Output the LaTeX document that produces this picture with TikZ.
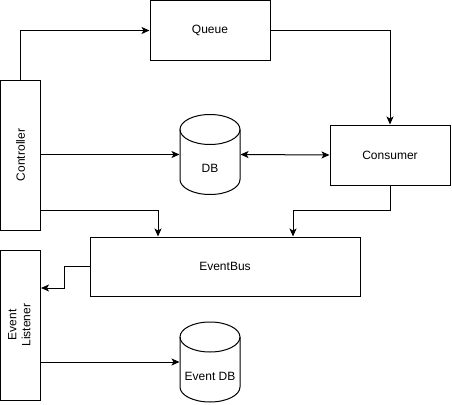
\documentclass[tikz,border=0pt]{standalone}
\usepackage{fontspec}
\setmainfont{Liberation Sans}
\usetikzlibrary{arrows.meta}
\newcommand\mycyl[3]{% cx, top, bottom
  \draw (#1,#2+15) ellipse [x radius=30pt, y radius=15pt];
  \draw (#1-30,#2+15) -- (#1-30,#3-15)
    .. controls (#1-30,#3-15+8.28) and (#1-16.57,#3) .. (#1,#3)
    .. controls (#1+16.57,#3) and (#1+30,#3-15+8.28) .. (#1+30,#3-15)
    -- (#1+30,#2+15);
}
\begin{document}
\begin{tikzpicture}[x=1pt,y=-1pt,line width=1pt,
  box/.style={draw, inner sep=0pt, font=\fontsize{12}{14}\selectfont},
  lbl/.style={inner sep=0pt, font=\fontsize{12}{14}\selectfont},
  ghost/.style={inner sep=0pt},
  arr/.style={-{Stealth[length=8pt,width=7pt,inset=2pt]}},
  barr/.style={{Stealth[length=8pt,width=7pt,inset=2pt]}-{Stealth[length=8pt,width=7pt,inset=2pt]}}]
\useasboundingbox (0,0) rectangle (452,404);

\node[box, minimum width=120pt, minimum height=60pt] (queue) at (210,30.5) {Queue};
\node[box, minimum width=40pt, minimum height=150pt] (ctrl) at (20.5,155) {\rotatebox{90}{Controller}};
\node[box, minimum width=120pt, minimum height=60pt] (cons) at (390,155) {Consumer};
\node[box, minimum width=270pt, minimum height=59pt] (bus) at (225,266.5) {EventBus};
\node[box, minimum width=40pt, minimum height=150pt] (el) at (20.5,325) {\rotatebox{90}{\begin{tabular}{@{}c@{}}Event\\Listener\end{tabular}}};

\node[ghost, minimum width=60pt, minimum height=80pt] (db) at (210,154.5) {};
\mycyl{210}{114.5}{194.5}
\node[lbl] (dblbl) at (210,168) {DB};

\node[ghost, minimum width=60pt, minimum height=80pt] (edb) at (210,362) {};
\mycyl{210}{322}{402}
\node[lbl] (edblbl) at (210,376) {Event DB};

\draw[arr] (ctrl.north) |- (queue.west);
\draw[arr] (queue.east) -| (cons.north);
\draw[arr] (ctrl.east |- db.west) -- (db.west);
\draw[barr] (db.east) -- (cons.west);
\draw[arr] ([yshift=20pt]ctrl.south east) -| ([xshift=-67pt]bus.north);
\draw[arr] (cons.south) -- ++(0,25) -| ([xshift=68pt]bus.north);
\draw[arr] (bus.west) -- ++(-25,0) |- ([yshift=37pt]el.east);
\draw[arr] (el.east |- edb.west) -- (edb.west);
\end{tikzpicture}
\end{document}
